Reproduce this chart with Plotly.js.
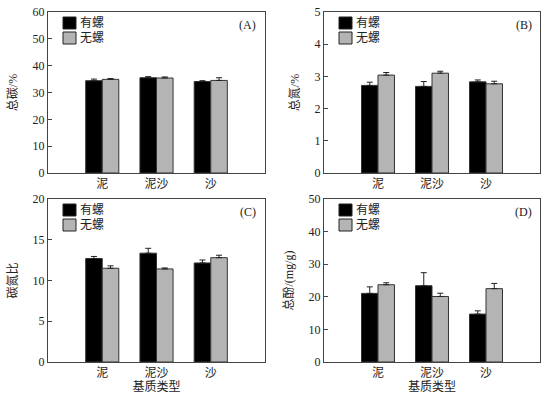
<!DOCTYPE html>
<html><head><meta charset="utf-8">
<script src="https://cdn.plot.ly/plotly-3.0.1.min.js"></script>
<style>html,body{margin:0;padding:0;background:#fff}#c{width:553px;height:399px}</style>
</head><body><div id="c"></div>
<script>
const categories = ['泥', '泥沙', '沙'];
const seriesNames = ['有螺', '无螺'];
const carbonWith = [34.4, 35.5, 34.1];
const carbonWithErr = [0.6, 0.4, 0.3];
const carbonWithout = [34.9, 35.4, 34.5];
const carbonWithoutErr = [0.3, 0.4, 1.0];
const nitrogenWith = [2.72, 2.69, 2.83];
const nitrogenWithErr = [0.1, 0.15, 0.06];
const nitrogenWithout = [3.04, 3.10, 2.77];
const nitrogenWithoutErr = [0.08, 0.06, 0.08];
const cnWith = [12.7, 13.35, 12.15];
const cnWithErr = [0.25, 0.6, 0.37];
const cnWithout = [11.5, 11.42, 12.8];
const cnWithoutErr = [0.3, 0.12, 0.3];
const phenolWith = [21.05, 23.4, 14.7];
const phenolWithErr = [2.0, 4.0, 1.0];
const phenolWithout = [23.7, 20.1, 22.5];
const phenolWithoutErr = [0.6, 1.0, 1.6];

const panelLabels = ['(A)', '(B)', '(C)', '(D)'];
const yTitles = ['总碳/%', '总氮/%', '碳氮比', '总酚/(mg/g)'];
const yMax = [60, 5, 20, 50];
const yDtick = [10, 1, 5, 10];

const FONT = 'Liberation Serif, Times New Roman, Noto Sans CJK SC, serif';
const colors = ['#000000', '#b4b4b4'];

const panels = [
  [carbonWith, carbonWithErr, carbonWithout, carbonWithoutErr],
  [nitrogenWith, nitrogenWithErr, nitrogenWithout, nitrogenWithoutErr],
  [cnWith, cnWithErr, cnWithout, cnWithoutErr],
  [phenolWith, phenolWithErr, phenolWithout, phenolWithoutErr]
];

const traces = [];
panels.forEach((p, i) => {
  const ax = i === 0 ? '' : String(i + 1);
  [0, 1].forEach(s => {
    traces.push({
      type: 'bar',
      x: categories,
      y: p[s * 2],
      name: seriesNames[s],
      xaxis: 'x' + ax,
      yaxis: 'y' + ax,
      showlegend: false,
      marker: {color: colors[s], line: {color: '#333', width: 1}},
      error_y: {type: 'data', array: p[s * 2 + 1], arrayminus: [0, 0, 0], symmetric: false,
                color: '#222', thickness: 1, width: 3}
    });
  });
});

const xpx = [[48, 265], [324, 540]];
const ypx = [[12, 173], [199, 362]];
const W = 553, H = 399;
const xd = xpx.map(a => [a[0] / W, a[1] / W]);
const yd = ypx.map(a => [1 - a[1] / H, 1 - a[0] / H]);

const layout = {
  width: W, height: H,
  margin: {l: 0, r: 0, t: 0, b: 0},
  paper_bgcolor: '#fff', plot_bgcolor: '#fff',
  font: {family: FONT, size: 11, color: '#222'},
  barmode: 'group', bargap: 0.39, bargroupgap: 0,
  annotations: [], shapes: [],
  showlegend: false
};

for (let i = 0; i < 4; i++) {
  const ax = i === 0 ? '' : String(i + 1);
  const col = i % 2, row = Math.floor(i / 2);
  layout['xaxis' + ax] = {
    domain: xd[col], anchor: 'y' + ax, range: [-1, 3],
    showline: true, mirror: true, linecolor: '#444', linewidth: 1,
    ticks: '', showgrid: false, zeroline: false, automargin: false,
    tickfont: {family: FONT, size: 12, color: '#222'},
    title: row === 1 ? {text: '基质类型', font: {family: FONT, size: 12, color: '#222'}, standoff: 2} : {text: ''}
  };
  layout['yaxis' + ax] = {
    domain: yd[row], anchor: 'x' + ax, range: [0, yMax[i]], dtick: yDtick[i],
    showline: true, mirror: true, linecolor: '#444', linewidth: 1,
    ticks: 'inside', ticklen: 4, tickcolor: '#444', showgrid: false, zeroline: false,
    automargin: false, tickfont: {family: FONT, size: 12, color: '#222'},
    title: {text: yTitles[i], font: {family: FONT, size: 12, color: '#222'}, standoff: 12}
  };
  // legend (manual, in axis-domain coordinates)
  const dw = xpx[col][1] - xpx[col][0], dh = ypx[row][1] - ypx[row][0];
  const lx0 = 15, sw = 13, sh = 12;
  [0, 1].forEach(s => {
    const ty = 5 + s * 15;
    layout.shapes.push({
      type: 'rect', xref: 'x' + ax + ' domain', yref: 'y' + ax + ' domain',
      x0: lx0 / dw, x1: (lx0 + sw) / dw, y0: 1 - ty / dh, y1: 1 - (ty + sh) / dh,
      fillcolor: colors[s], line: {color: '#222', width: 1}
    });
    layout.annotations.push({
      text: seriesNames[s], xref: 'x' + ax + ' domain', yref: 'y' + ax + ' domain',
      x: (lx0 + sw + 2) / dw, y: 1 - (ty + sh / 2) / dh, xanchor: 'left', yanchor: 'middle',
      showarrow: false, font: {family: FONT, size: 12, color: '#222'}
    });
  });
  layout.annotations.push({
    text: panelLabels[i], xref: 'x' + ax + ' domain', yref: 'y' + ax + ' domain',
    x: 0.97, y: 0.92, xanchor: 'right', yanchor: 'middle', showarrow: false,
    font: {family: FONT, size: 12, color: '#222'}
  });
}

Plotly.newPlot('c', traces, layout, {displayModeBar: false, staticPlot: true});
</script></body></html>
